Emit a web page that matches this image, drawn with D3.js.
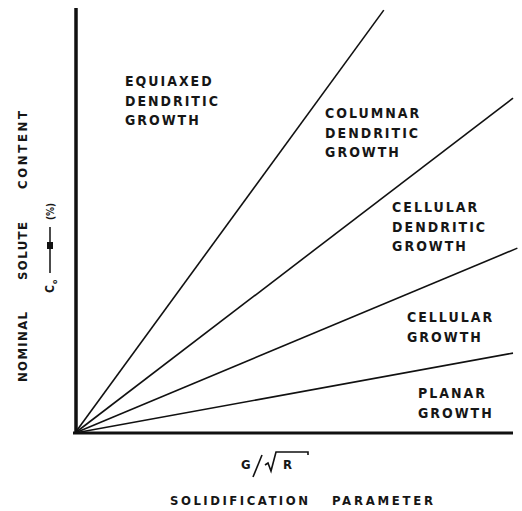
<!DOCTYPE html>
<meta charset="utf-8">
<script src="https://d3js.org/d3.v7.min.js"></script>
<style>
  body { margin: 0; background: #fff; }
  text { font-family: "DejaVu Sans Condensed", "Liberation Sans Narrow", "DejaVu Sans", sans-serif; font-weight: bold; fill: #161616; }
</style>
<body>
<svg id="chart" width="522" height="511"></svg>
<script>
  // boundary lines between growth regimes, all starting at the origin
  var boundaryEndX = [0.705, 1.0, 1.01, 1.0];
  var boundaryEndY = [0.995, 0.788, 0.435, 0.188];

  // region labels (data coordinates of the first line's baseline, left edge)
  var regionLabels = [
    ["EQUIAXED", "DENDRITIC", "GROWTH"],
    ["COLUMNAR", "DENDRITIC", "GROWTH"],
    ["CELLULAR", "DENDRITIC", "GROWTH"],
    ["CELLULAR", "GROWTH"],
    ["PLANAR", "GROWTH"]
  ];
  var labelX = [0.114, 0.571, 0.724, 0.758, 0.783];
  var labelY = [0.816, 0.741, 0.520, 0.261, 0.082];

  var svg = d3.select("#chart");

  var x = d3.scaleLinear().domain([0, 1]).range([75, 513]);
  var y = d3.scaleLinear().domain([0, 1]).range([433, 8]);

  // axes (plain thick lines, no ticks)
  svg.append("line")
    .attr("x1", x(0) + 1).attr("x2", x(0) + 1)
    .attr("y1", y(0) + 1).attr("y2", y(1))
    .attr("stroke", "#111").attr("stroke-width", 3.5);
  svg.append("line")
    .attr("x1", x(0) - 2).attr("x2", x(1))
    .attr("y1", y(0)).attr("y2", y(0))
    .attr("stroke", "#111").attr("stroke-width", 3);

  // boundary lines
  svg.append("g")
    .selectAll("line")
    .data(boundaryEndX)
    .enter()
    .append("line")
    .attr("x1", x(0)).attr("y1", y(0))
    .attr("x2", function(d){ return x(d) })
    .attr("y2", function(d, i){ return y(boundaryEndY[i]) })
    .attr("stroke", "#111")
    .attr("stroke-width", 1.6);

  // region labels
  var lab = svg.append("g")
    .selectAll("text")
    .data(regionLabels)
    .enter()
    .append("text")
    .attr("x", function(d, i){ return x(labelX[i]) })
    .attr("y", function(d, i){ return y(labelY[i]) })
    .style("font-size", "14px")
    .style("letter-spacing", "2px");
  lab.selectAll("tspan")
    .data(function(d){ return d })
    .enter()
    .append("tspan")
    .attr("x", function(){ return d3.select(this.parentNode).attr("x") })
    .attr("dy", function(d, i){ return i == 0 ? 0 : 19.5 })
    .text(function(d){ return d });

  // y axis title
  var yt = svg.append("g").attr("transform", "translate(27,245) rotate(-90)");
  yt.append("text").attr("x", -137).style("font-size", "13px")
    .attr("textLength", 70).attr("lengthAdjust", "spacing").text("NOMINAL");
  yt.append("text").attr("x", -35).style("font-size", "13px")
    .attr("textLength", 58).attr("lengthAdjust", "spacing").text("SOLUTE");
  yt.append("text").attr("x", 56).style("font-size", "13px")
    .attr("textLength", 78).attr("lengthAdjust", "spacing").text("CONTENT");

  // C0 ---*--- (%)
  var g0 = svg.append("g").attr("transform", "translate(50,245) rotate(-90)");
  g0.append("text").attr("x", -48).attr("y", 4).style("font-size", "12px").text("C");
  g0.append("text").attr("x", -39).attr("y", 7).style("font-size", "7px").text("o");
  g0.append("line").attr("x1", -28).attr("x2", 18).attr("y1", 0).attr("y2", 0)
    .attr("stroke", "#111").attr("stroke-width", 1.5);
  g0.append("rect").attr("x", -4).attr("y", -3).attr("width", 7).attr("height", 6).attr("fill", "#111");
  g0.append("text").attr("x", 25).attr("y", 4).style("font-size", "10px").text("(%)");

  // x axis title
  var gx = svg.append("g");
  gx.append("text").attr("x", 241).attr("y", 469).style("font-size", "13px").text("G");
  gx.append("line").attr("x1", 262).attr("x2", 253).attr("y1", 455).attr("y2", 477)
    .attr("stroke", "#111").attr("stroke-width", 1.6);
  gx.append("path").attr("d", "M265,465 L268,463 L271,471 L276,452 L308,452 L308,455")
    .attr("fill", "none").attr("stroke", "#111").attr("stroke-width", 1.6);
  gx.append("text").attr("x", 283).attr("y", 469).style("font-size", "13px").text("R");

  svg.append("text")
    .attr("x", 170).attr("y", 505)
    .style("font-size", "13px")
    .attr("textLength", 138).attr("lengthAdjust", "spacing")
    .text("SOLIDIFICATION");
  svg.append("text")
    .attr("x", 332).attr("y", 505)
    .style("font-size", "13px")
    .attr("textLength", 101).attr("lengthAdjust", "spacing")
    .text("PARAMETER");
</script>
</body>
